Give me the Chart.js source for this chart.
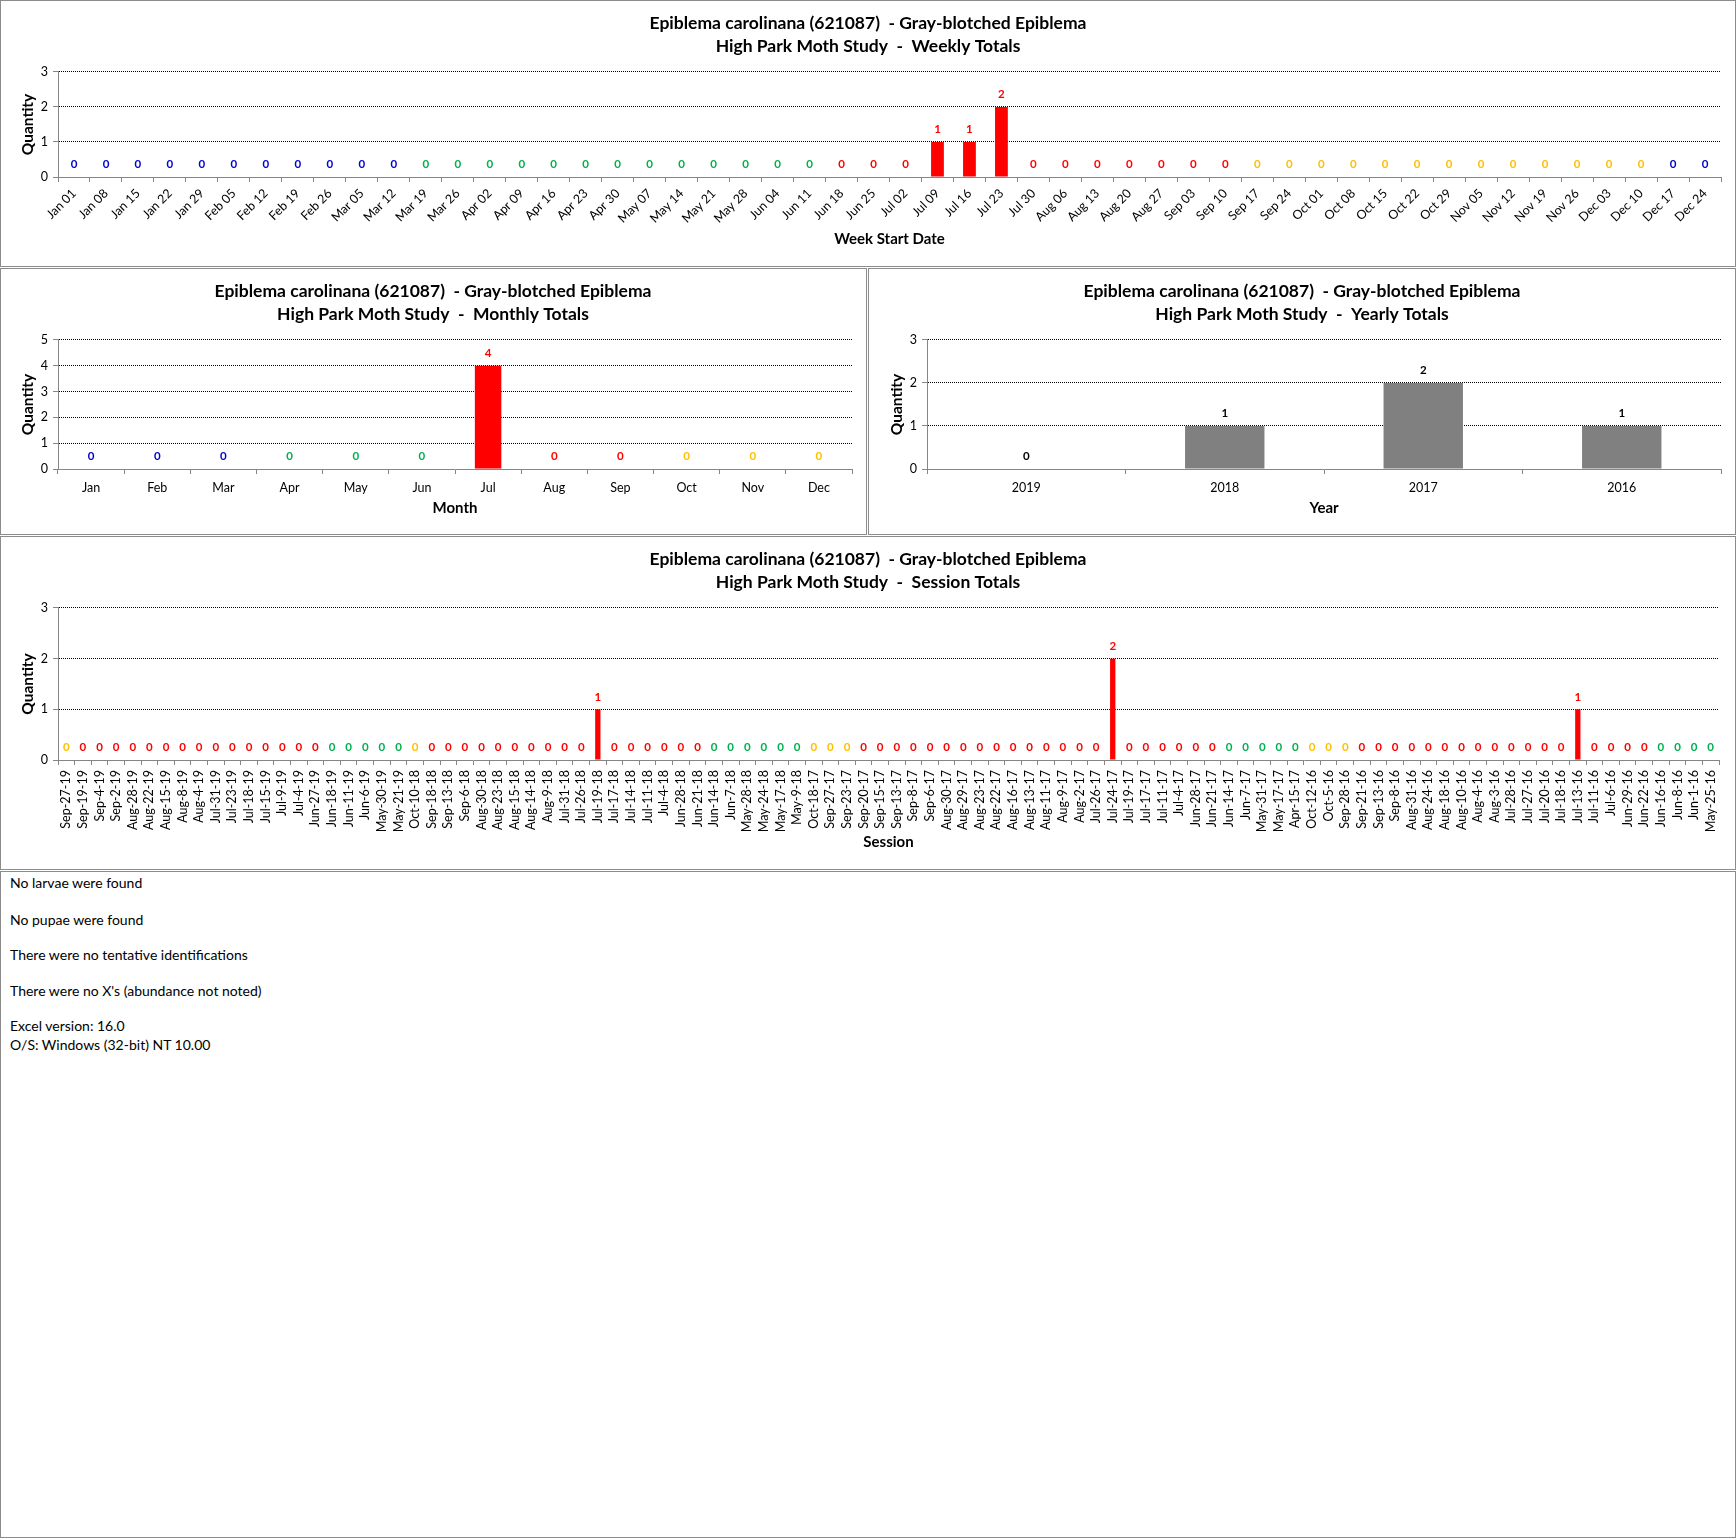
<!DOCTYPE html>
<html>
<head>
<meta charset="utf-8">
<script src="https://cdn.jsdelivr.net/npm/chart.js@4.4.1/dist/chart.umd.min.js"></script>
<style>
  body { margin: 0; background: #fff; font-family: Lato, sans-serif; }
  #page { position: relative; width: 1736px; height: 1538px; }
  .panel { position: absolute; box-sizing: border-box; border: 1px solid #8c8c8c; }
  canvas { position: absolute; }
  .note { position: absolute; left: 10px; font-size: 14px; line-height: 18px; color: #000; white-space: pre; }
</style>
</head>
<body>
<div id="page">
  <div class="panel" style="left:0;top:0;width:1736px;height:267px"></div>
  <div class="panel" style="left:0;top:268px;width:867px;height:267px"></div>
  <div class="panel" style="left:868px;top:268px;width:868px;height:267px"></div>
  <div class="panel" style="left:0;top:536px;width:1736px;height:334px"></div>
  <div class="panel" style="left:0;top:871px;width:1736px;height:667px"></div>

  <canvas id="weekly" width="1736" height="266" style="left:0;top:0"></canvas>
  <canvas id="monthly" width="866" height="266" style="left:0;top:268px"></canvas>
  <canvas id="yearly" width="866" height="266" style="left:869px;top:268px"></canvas>
  <canvas id="session" width="1736" height="333" style="left:0;top:536px"></canvas>

  <div class="note" style="top:874px">No larvae were found</div>
  <div class="note" style="top:911px">No pupae were found</div>
  <div class="note" style="top:946px">There were no tentative identifications</div>
  <div class="note" style="top:982px">There were no X's (abundance not noted)</div>
  <div class="note" style="top:1017px">Excel version: 16.0</div>
  <div class="note" style="top:1036px">O/S: Windows (32-bit) NT 10.00</div>
</div>

<script>
const speciesTitle = 'Epiblema carolinana (621087)  - Gray-blotched Epiblema';

const weekLabels = [
    'Jan 01', 'Jan 08', 'Jan 15', 'Jan 22', 'Jan 29', 'Feb 05', 'Feb 12', 'Feb 19', 'Feb 26',
    'Mar 05', 'Mar 12', 'Mar 19', 'Mar 26', 'Apr 02', 'Apr 09', 'Apr 16', 'Apr 23', 'Apr 30',
    'May 07', 'May 14', 'May 21', 'May 28', 'Jun 04', 'Jun 11', 'Jun 18', 'Jun 25', 'Jul 02',
    'Jul 09', 'Jul 16', 'Jul 23', 'Jul 30', 'Aug 06', 'Aug 13', 'Aug 20', 'Aug 27', 'Sep 03',
    'Sep 10', 'Sep 17', 'Sep 24', 'Oct 01', 'Oct 08', 'Oct 15', 'Oct 22', 'Oct 29', 'Nov 05',
    'Nov 12', 'Nov 19', 'Nov 26', 'Dec 03', 'Dec 10', 'Dec 17', 'Dec 24'
];
const weekValues = [
    0, 0, 0, 0, 0, 0, 0, 0, 0,
    0, 0, 0, 0, 0, 0, 0, 0, 0,
    0, 0, 0, 0, 0, 0, 0, 0, 0,
    1, 1, 2, 0, 0, 0, 0, 0, 0,
    0, 0, 0, 0, 0, 0, 0, 0, 0,
    0, 0, 0, 0, 0, 0, 0
];

const monthLabels = ['Jan', 'Feb', 'Mar', 'Apr', 'May', 'Jun', 'Jul', 'Aug', 'Sep', 'Oct', 'Nov', 'Dec'];
const monthValues = [0, 0, 0, 0, 0, 0, 4, 0, 0, 0, 0, 0];

const yearLabels = ['2019', '2018', '2017', '2016'];
const yearValues = [0, 1, 2, 1];

const sessionLabels = [
    'Sep-27-19', 'Sep-19-19', 'Sep-4-19', 'Sep-2-19', 'Aug-28-19', 'Aug-22-19', 'Aug-15-19', 'Aug-8-19', 'Aug-4-19', 'Jul-31-19',
    'Jul-23-19', 'Jul-18-19', 'Jul-15-19', 'Jul-9-19', 'Jul-4-19', 'Jun-27-19', 'Jun-18-19', 'Jun-11-19', 'Jun-6-19', 'May-30-19',
    'May-21-19', 'Oct-10-18', 'Sep-18-18', 'Sep-13-18', 'Sep-6-18', 'Aug-30-18', 'Aug-23-18', 'Aug-15-18', 'Aug-14-18', 'Aug-9-18',
    'Jul-31-18', 'Jul-26-18', 'Jul-19-18', 'Jul-17-18', 'Jul-14-18', 'Jul-11-18', 'Jul-4-18', 'Jun-28-18', 'Jun-21-18', 'Jun-14-18',
    'Jun-7-18', 'May-28-18', 'May-24-18', 'May-17-18', 'May-9-18', 'Oct-18-17', 'Sep-27-17', 'Sep-23-17', 'Sep-20-17', 'Sep-15-17',
    'Sep-13-17', 'Sep-8-17', 'Sep-6-17', 'Aug-30-17', 'Aug-29-17', 'Aug-23-17', 'Aug-22-17', 'Aug-16-17', 'Aug-13-17', 'Aug-11-17',
    'Aug-9-17', 'Aug-2-17', 'Jul-26-17', 'Jul-24-17', 'Jul-19-17', 'Jul-17-17', 'Jul-11-17', 'Jul-4-17', 'Jun-28-17', 'Jun-21-17',
    'Jun-14-17', 'Jun-7-17', 'May-31-17', 'May-17-17', 'Apr-15-17', 'Oct-12-16', 'Oct-5-16', 'Sep-28-16', 'Sep-21-16', 'Sep-13-16',
    'Sep-8-16', 'Aug-31-16', 'Aug-24-16', 'Aug-18-16', 'Aug-10-16', 'Aug-4-16', 'Aug-3-16', 'Jul-28-16', 'Jul-27-16', 'Jul-20-16',
    'Jul-18-16', 'Jul-13-16', 'Jul-11-16', 'Jul-6-16', 'Jun-29-16', 'Jun-22-16', 'Jun-16-16', 'Jun-8-16', 'Jun-1-16', 'May-25-16'
];
const sessionValues = [
    0, 0, 0, 0, 0, 0, 0, 0, 0, 0,
    0, 0, 0, 0, 0, 0, 0, 0, 0, 0,
    0, 0, 0, 0, 0, 0, 0, 0, 0, 0,
    0, 0, 1, 0, 0, 0, 0, 0, 0, 0,
    0, 0, 0, 0, 0, 0, 0, 0, 0, 0,
    0, 0, 0, 0, 0, 0, 0, 0, 0, 0,
    0, 0, 0, 2, 0, 0, 0, 0, 0, 0,
    0, 0, 0, 0, 0, 0, 0, 0, 0, 0,
    0, 0, 0, 0, 0, 0, 0, 0, 0, 0,
    0, 1, 0, 0, 0, 0, 0, 0, 0, 0
];

const BLUE = '#0000CC';
const GREEN = '#00B050';
const RED = '#FF0000';
const YELLOW = '#FFC000';
const AXIS = '#868686';

Chart.defaults.font.family = 'Lato';
Chart.defaults.color = '#000';

// couleur de saison d'une date (mois 0-11, jour)
function seasonColor(m, d) {
    const md = (m + 1) * 100 + d;
    if (md >= 1221 || md < 320) return BLUE;
    if (md < 621) return GREEN;
    if (md < 922) return RED;
    return YELLOW;
}

function weekColor(label) {
    const [mon, day] = label.split(' ');
    const end = new Date(2018, monthLabels.indexOf(mon), parseInt(day, 10) + 6);
    return seasonColor(end.getMonth(), end.getDate());
}

function sessionColor(label) {
    const [mon, day] = label.split('-');
    return seasonColor(monthLabels.indexOf(mon), parseInt(day, 10));
}

// valeurs au-dessus des barres
const valueLabels = {
    id: 'valueLabels',
    afterDatasetsDraw(chart) {
        const ds = chart.data.datasets[0];
        const meta = chart.getDatasetMeta(0);
        const ctx = chart.ctx;
        ctx.save();
        ctx.font = 'bold 11.5px Lato';
        ctx.textAlign = 'center';
        ctx.textBaseline = 'middle';
        meta.data.forEach((bar, i) => {
            ctx.fillStyle = ds.labelColors[i];
            ctx.fillText(String(ds.data[i]), bar.x, bar.y - 12.5);
        });
        ctx.restore();
    }
};

function makeChart(cfg) {
    const pad = cfg.padSide;
    return new Chart(document.getElementById(cfg.id), {
        type: 'bar',
        data: {
            labels: cfg.labels,
            datasets: [{
                data: cfg.values,
                backgroundColor: cfg.barColor,
                barPercentage: cfg.barPct,
                categoryPercentage: 1,
                labelColors: cfg.labelColors
            }]
        },
        options: {
            responsive: false,
            animation: false,
            devicePixelRatio: 1,
            // même marge à gauche et à droite pour centrer le titre sur le cadre
            layout: { padding: { left: pad, top: 0, bottom: 0, right: pad } },
            plugins: {
                legend: { display: false },
                tooltip: { enabled: false },
                title: {
                    display: true,
                    text: [speciesTitle, 'High Park Moth Study  -  ' + cfg.subtitle],
                    font: { size: 17.5, weight: 'bold', lineHeight: 1.314 },
                    color: '#000',
                    padding: { top: 11.5, bottom: 14.5 }
                }
            },
            scales: {
                x: {
                    grid: {
                        display: true,
                        drawOnChartArea: false,
                        drawTicks: true,
                        tickLength: 5,
                        offset: true,
                        tickColor: AXIS
                    },
                    border: { display: true, color: AXIS, width: 1 },
                    ticks: {
                        autoSkip: false,
                        maxRotation: cfg.rotation,
                        minRotation: cfg.rotation,
                        padding: cfg.tickPad,
                        font: { size: 12.5 },
                        color: '#000'
                    },
                    title: {
                        display: true,
                        text: cfg.xTitle,
                        font: { size: 15, weight: 'bold', lineHeight: 1.2 },
                        color: '#000',
                        padding: { top: 0, bottom: cfg.xTitlePad }
                    },
                    afterFit: scale => { scale.height = cfg.xHeight; }
                },
                y: {
                    min: 0,
                    max: cfg.yMax,
                    grid: {
                        color: c => (c.tick && c.tick.value === 0) ? 'rgba(0,0,0,0)' : '#000',
                        lineWidth: 1,
                        tickLength: 5,
                        tickColor: AXIS
                    },
                    border: { display: true, color: AXIS, width: 1, dash: [1, 1] },
                    ticks: { stepSize: 1, padding: 5, font: { size: 12.5 }, color: '#000' },
                    title: {
                        display: true,
                        text: 'Quantity',
                        font: { size: 15.5, weight: 'bold', lineHeight: 1.2 },
                        color: '#000',
                        padding: { top: Math.max(0, 18.7 - pad), bottom: 0 }
                    },
                    afterFit: scale => { scale.width = 58 - pad; }
                }
            }
        },
        plugins: [valueLabels]
    });
}

makeChart({
    id: 'weekly', labels: weekLabels, values: weekValues, subtitle: 'Weekly Totals',
    barColor: RED, barPct: 0.4, labelColors: weekLabels.map(weekColor),
    padSide: 15, rotation: 45, tickPad: 4, xTitle: 'Week Start Date',
    xTitlePad: 18, xHeight: 89, yMax: 3
});

makeChart({
    id: 'monthly', labels: monthLabels, values: monthValues, subtitle: 'Monthly Totals',
    barColor: RED, barPct: 0.4, labelColors: monthLabels.map((m, i) => seasonColor(i, 15)),
    padSide: 14, rotation: 0, tickPad: 6, xTitle: 'Month',
    xTitlePad: 17, xHeight: 65, yMax: 5
});

makeChart({
    id: 'yearly', labels: yearLabels, values: yearValues, subtitle: 'Yearly Totals',
    barColor: '#808080', barPct: 0.4, labelColors: yearLabels.map(() => '#000'),
    padSide: 14, rotation: 0, tickPad: 6, xTitle: 'Year',
    xTitlePad: 17, xHeight: 65, yMax: 3
});

makeChart({
    id: 'session', labels: sessionLabels, values: sessionValues, subtitle: 'Session Totals',
    barColor: RED, barPct: 0.32, labelColors: sessionLabels.map(sessionColor),
    padSide: 17, rotation: 90, tickPad: 5, xTitle: 'Session',
    xTitlePad: 18, xHeight: 109, yMax: 3
});
</script>
</body>
</html>
